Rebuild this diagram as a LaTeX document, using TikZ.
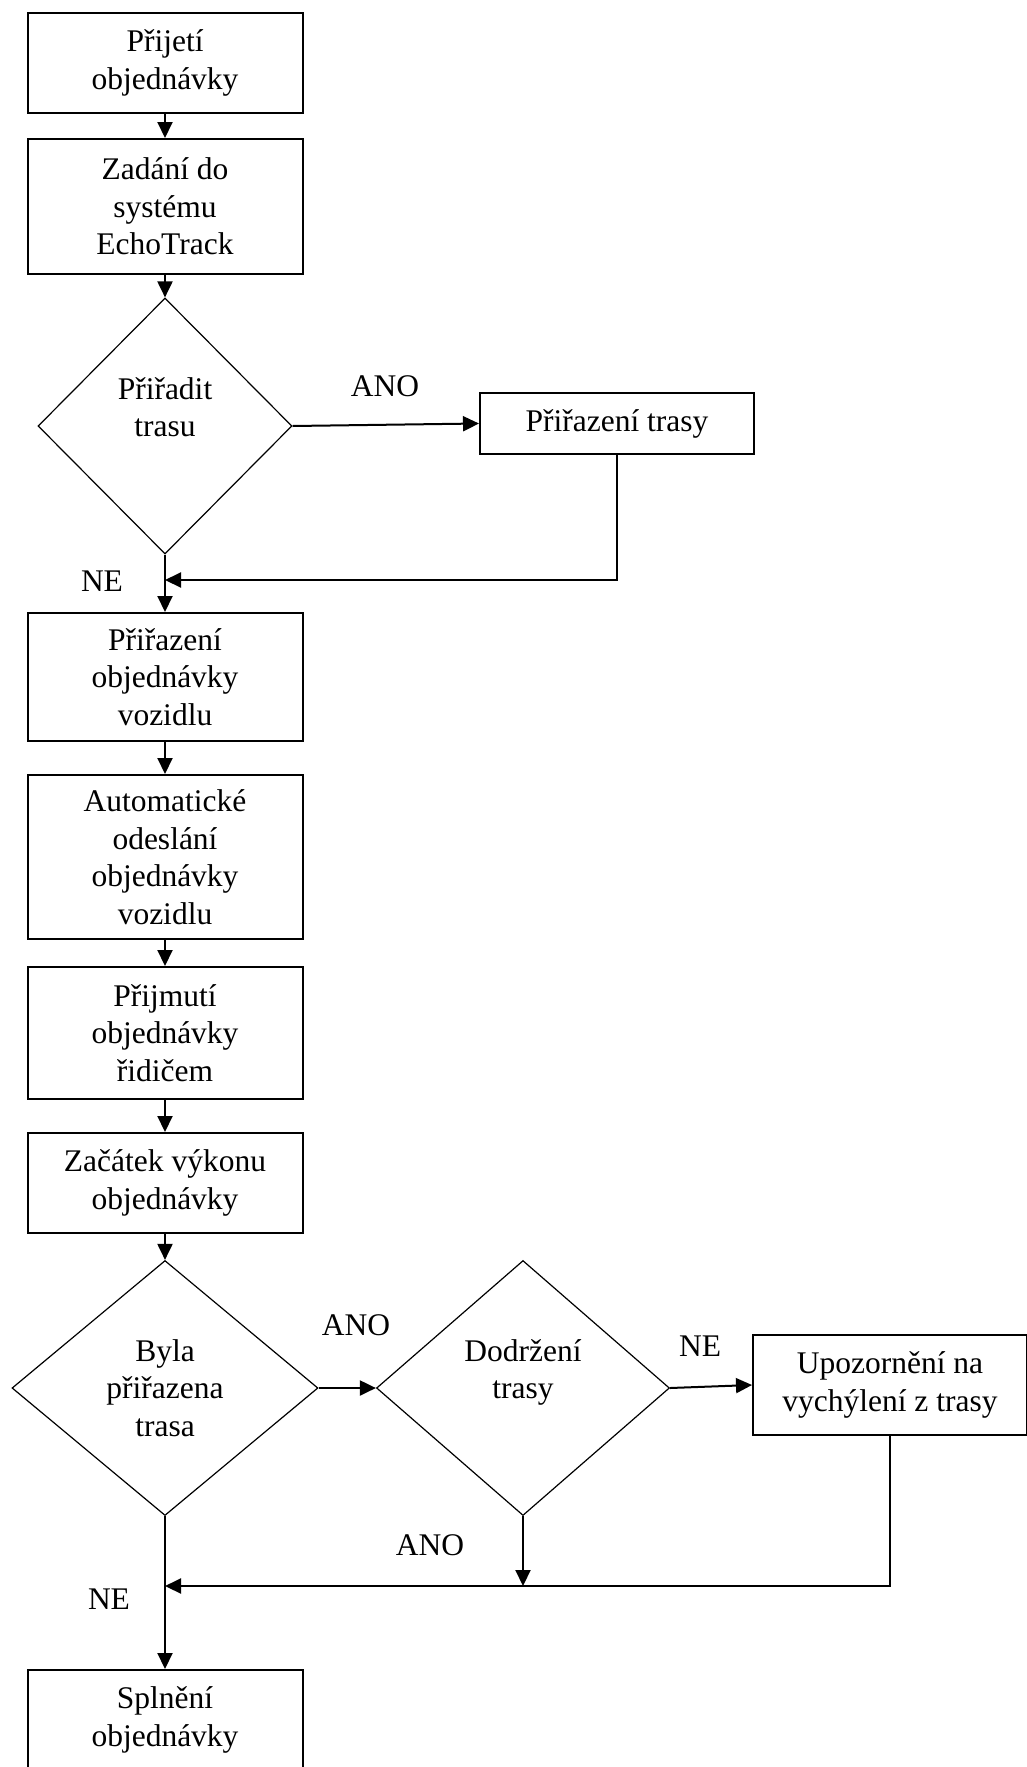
\documentclass[tikz,border=0pt]{standalone}
\usepackage{fontspec}
\setmainfont{Liberation Serif}
\usetikzlibrary{arrows.meta,shapes.geometric}
\begin{document}
\begin{tikzpicture}[x=1pt,y=-1pt,
  every node/.style={font=\fontsize{31.5}{37.5}\selectfont},
  stepbox/.style={draw,line width=2pt,minimum width=275pt,align=center,inner sep=0pt},
  decision/.style={draw,diamond,line width=1.2pt,align=center,inner sep=0pt},
  flow/.style={line width=2pt,-{Triangle[length=16pt,width=15pt]}},
  tag/.style={inner sep=0pt}]
\useasboundingbox (0,0) rectangle (1026,1767);

% main column
\node[stepbox,minimum height=100pt] (b1) at (165,63) {Přijetí\\objednávky};
\node[stepbox,minimum height=135pt] (b2) at (165,206.5) {Zadání do\\systému\\EchoTrack};
\node[decision,minimum width=254pt,minimum height=256pt] (d1) at (165,426) {Přiřadit\\trasu\\\mbox{}};
\node[stepbox,minimum height=61pt,minimum width=274pt] (b7) at (617,423.5) {Přiřazení trasy};
\node[stepbox,minimum height=128pt] (b3) at (165,677) {Přiřazení\\objednávky\\vozidlu};
\node[stepbox,minimum height=164pt] (b4) at (165,857) {Automatické\\odeslání\\objednávky\\vozidlu};
\node[stepbox,minimum height=132pt] (b5) at (165,1033) {Přijmutí\\objednávky\\řidičem};
\node[stepbox,minimum height=100pt] (b6) at (165,1183) {Začátek výkonu\\objednávky};
\node[decision,minimum width=306pt,minimum height=255pt] (d2) at (165,1388) {Byla\\přiřazena\\trasa};
\node[decision,minimum width=293pt,minimum height=255pt] (d3) at (523,1388) {Dodržení\\trasy\\\mbox{}};
\node[stepbox,minimum height=100pt,minimum width=274pt] (b8) at (890,1385) {Upozornění na\\vychýlení z trasy};
\node[stepbox,minimum height=100pt] (b9) at (165,1720) {Splnění\\objednávky};

% junctions on the main line
\coordinate (j1) at (165,580);
\coordinate (j2) at (165,1586);
\coordinate (j3) at (523,1586);

% connectors
\draw[flow] (b1) -- (b2);
\draw[flow] (b2) -- (d1.north);
\draw[flow] (d1.east) -- (b7.west);
\draw[flow] (d1.south) -- (b3.north);
\draw[flow] (b7.south) |- (j1);
\draw[flow] (b3) -- (b4);
\draw[flow] (b4) -- (b5);
\draw[flow] (b5) -- (b6);
\draw[flow] (b6) -- (d2.north);
\draw[flow] (d2.east) -- (d3.west);
\draw[flow] (d3.east) -- (b8.west);
\draw[flow] (d3.south) -- (j3);
\draw[flow] (b8.south) |- (j2);
\draw[flow] (d2.south) -- (b9.north);

% branch labels
\node[tag] (l1) at (385,386) {ANO};
\node[tag] (l2) at (102,581) {NE};
\node[tag] (l3) at (356,1325) {ANO};
\node[tag] (l4) at (700,1346) {NE};
\node[tag] (l5) at (430,1545) {ANO};
\node[tag] (l6) at (109,1599) {NE};
\end{tikzpicture}
\end{document}
